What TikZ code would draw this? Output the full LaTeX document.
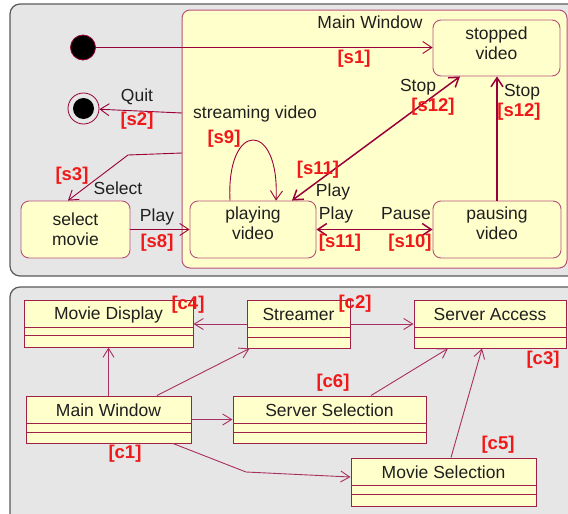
\documentclass[tikz,border=0pt]{standalone}
\usepackage{fontspec}
\setmainfont{Liberation Sans}
\usetikzlibrary{arrows.meta,fit}
\definecolor{panelfill}{HTML}{E6E6E6}
\definecolor{panelline}{HTML}{5A5A5A}
\definecolor{yel}{HTML}{FFFFCC}
\definecolor{stateline}{HTML}{B8507A}
\definecolor{transline}{HTML}{99003A}
\definecolor{clsline}{HTML}{A0204A}
\definecolor{assocline}{HTML}{A83060}
\definecolor{tagred}{HTML}{F01818}
\newcommand\umlcls[8]{%
  \node[clsnode, fit={(#2,#3)(#4,#5)}] (#1) {};
  \draw[clsline, line width=1pt] (#2,#7) -- (#4,#7) (#2,#8) -- (#4,#8);
  \node[lbl] (#1t) at ([yshift=-15pt]#1.north) {#6};
}
\begin{document}
\begin{tikzpicture}[x=1pt,y=-1pt,
  panel/.style={fill=panelfill, draw=panelline, line width=1.2pt, rounded corners=10pt},
  statebox/.style={draw=stateline, fill=yel, rounded corners=8pt, line width=0.9pt, inner sep=0pt},
  clsnode/.style={draw=clsline, fill=yel, line width=1pt, inner sep=0pt},
  lbl/.style={font=\fontsize{17.5}{20}\selectfont, inner sep=0pt, align=center, text=black!88},
  tag/.style={font=\fontsize{18.5}{20}\selectfont\bfseries, text=tagred, inner sep=0pt},
  trans/.style={draw=transline, line width=0.9pt, -{Straight Barb[length=9pt,width=12pt]}},
  transthick/.style={draw=transline, line width=1.5pt, -{Straight Barb[length=9pt,width=12pt]}},
  transboth/.style={draw=transline, line width=1.5pt, {Straight Barb[length=9pt,width=12pt]}-{Straight Barb[length=9pt,width=12pt]}},
  assoc/.style={draw=assocline, line width=0.9pt, -{Straight Barb[length=9pt,width=11pt]}}]
\clip (0,0) rectangle (568,514);
% panels
\draw[panel] (10,4) rectangle (585,276);
\draw[panel] (10,287) rectangle (585,530);
% composite state
\node[draw=stateline, fill=yel, rounded corners=8pt, line width=1pt, inner sep=0pt,
      minimum width=385pt, minimum height=258pt] (mwc) at (374.5,139) {};
\node[lbl] (mwclbl) at (370,22) {Main Window};
\node[lbl] (strlbl) at (255,114) {streaming video};
% pseudo states
\node[circle, fill=black, draw=transline, line width=0.8pt, minimum size=25pt, inner sep=0pt] (init) at (83,47.5) {};
\node[circle, draw=transline, fill=panelfill, line width=0.8pt, minimum size=31pt, inner sep=0pt] (fin) at (83.5,108.5) {};
\node[circle, fill=black, minimum size=21pt, inner sep=0pt] (finin) at (83.5,108.5) {};
% states
\node[statebox, minimum width=127pt, minimum height=56pt] (sv) at (496.5,48) {};
\node[lbl] (svt) at (496.5,43) {stopped\\video};
\node[statebox, minimum width=126pt, minimum height=57pt] (pv) at (253,229.5) {};
\node[lbl] (pvt) at (253,223) {playing\\video};
\node[statebox, minimum width=128pt, minimum height=57pt] (pa) at (497,229.5) {};
\node[lbl] (pat) at (497,223) {pausing\\video};
\node[statebox, minimum width=109pt, minimum height=57pt] (sm) at (75.5,229.5) {};
\node[lbl] (smt) at (75.5,229) {select\\movie};
% transitions
\draw[trans] (init) -- (sv.west |- init);
\coordinate (qstart) at (182,113);
\draw[trans] (qstart) -- (fin);
\coordinate (selstart) at (182,153);
\coordinate (selbend) at (128,155);
\draw[trans] (selstart) -- (selbend) -- ([xshift=-7.5pt]sm.north);
\draw[trans] (sm.east) -- (pv.west);
\draw[trans] ([xshift=-23pt]pv.north) .. controls (226,120) and (280,120) .. ([xshift=23pt]pv.north);
\draw[transboth] ([xshift=39pt]pv.north) -- ([xshift=-36.5pt]sv.south);
\draw[transboth] (pv.east) -- (pa.west);
\draw[transthick] (pa.north) -- (sv.south -| pa.north);
% transition labels
\node[tag] (s1) at (354,59) {[s1]};
\node[lbl] (quit) at (137,97) {Quit};
\node[tag] (s2) at (137,121) {[s2]};
\node[tag] (s3) at (72,176) {[s3]};
\node[lbl] (sel) at (118,188) {Select};
\node[lbl] (play8) at (157,217) {Play};
\node[tag] (s8) at (157,243) {[s8]};
\node[tag] (s9) at (224,139) {[s9]};
\node[tag] (s11a) at (318,170) {[s11]};
\node[lbl] (playa) at (333,192) {Play};
\node[lbl] (stopa) at (418,87) {Stop};
\node[tag] (s12a) at (433,107) {[s12]};
\node[lbl] (playb) at (336,215) {Play};
\node[tag] (s11b) at (340,243) {[s11]};
\node[lbl] (pause) at (406,214) {Pause};
\node[tag] (s10) at (410,243) {[s10]};
\node[lbl] (stopb) at (522,92) {Stop};
\node[tag] (s12b) at (519,112) {[s12]};
% class diagram
\umlcls{md}{24}{300}{193}{347}{Movie Display}{327}{335}
\umlcls{st}{247}{300}{350}{348}{Streamer}{327}{337}
\umlcls{sa}{414}{300}{566}{348}{Server Access}{327}{337}
\umlcls{mw}{26}{396}{191}{443}{Main Window}{423}{432}
\umlcls{ss}{233}{396}{426}{443}{Server Selection}{423}{432}
\umlcls{ms}{351}{458}{536}{506}{Movie Selection}{485}{494}
\draw[assoc] (st.west) -- (md.east |- st.west);
\draw[assoc] (mw.north) -- (md.south);
\draw[assoc] ([xshift=48.5pt]mw.north) -- ([xshift=3pt]st.south west);
\draw[assoc] (st.east) -- (sa.west |- st.east);
\draw[assoc] (mw.east) -- (ss.west);
\draw[assoc] ([xshift=41.5pt]ss.north) -- ([xshift=-42pt]sa.south);
\coordinate (msbend) at (246,472);
\draw[assoc] ([xshift=64.5pt]mw.south) -- (msbend) -- ([yshift=5pt]ms.west);
\draw[assoc] ([xshift=7.5pt]ms.north) -- ([xshift=-8pt]sa.south);
\node[tag] (c4) at (188,305) {[c4]};
\node[tag] (c2) at (355,304) {[c2]};
\node[tag] (c3) at (543,360) {[c3]};
\node[tag] (c6) at (333,383) {[c6]};
\node[tag] (c5) at (498,445) {[c5]};
\node[tag] (c1) at (125,454) {[c1]};
\end{tikzpicture}
\end{document}
